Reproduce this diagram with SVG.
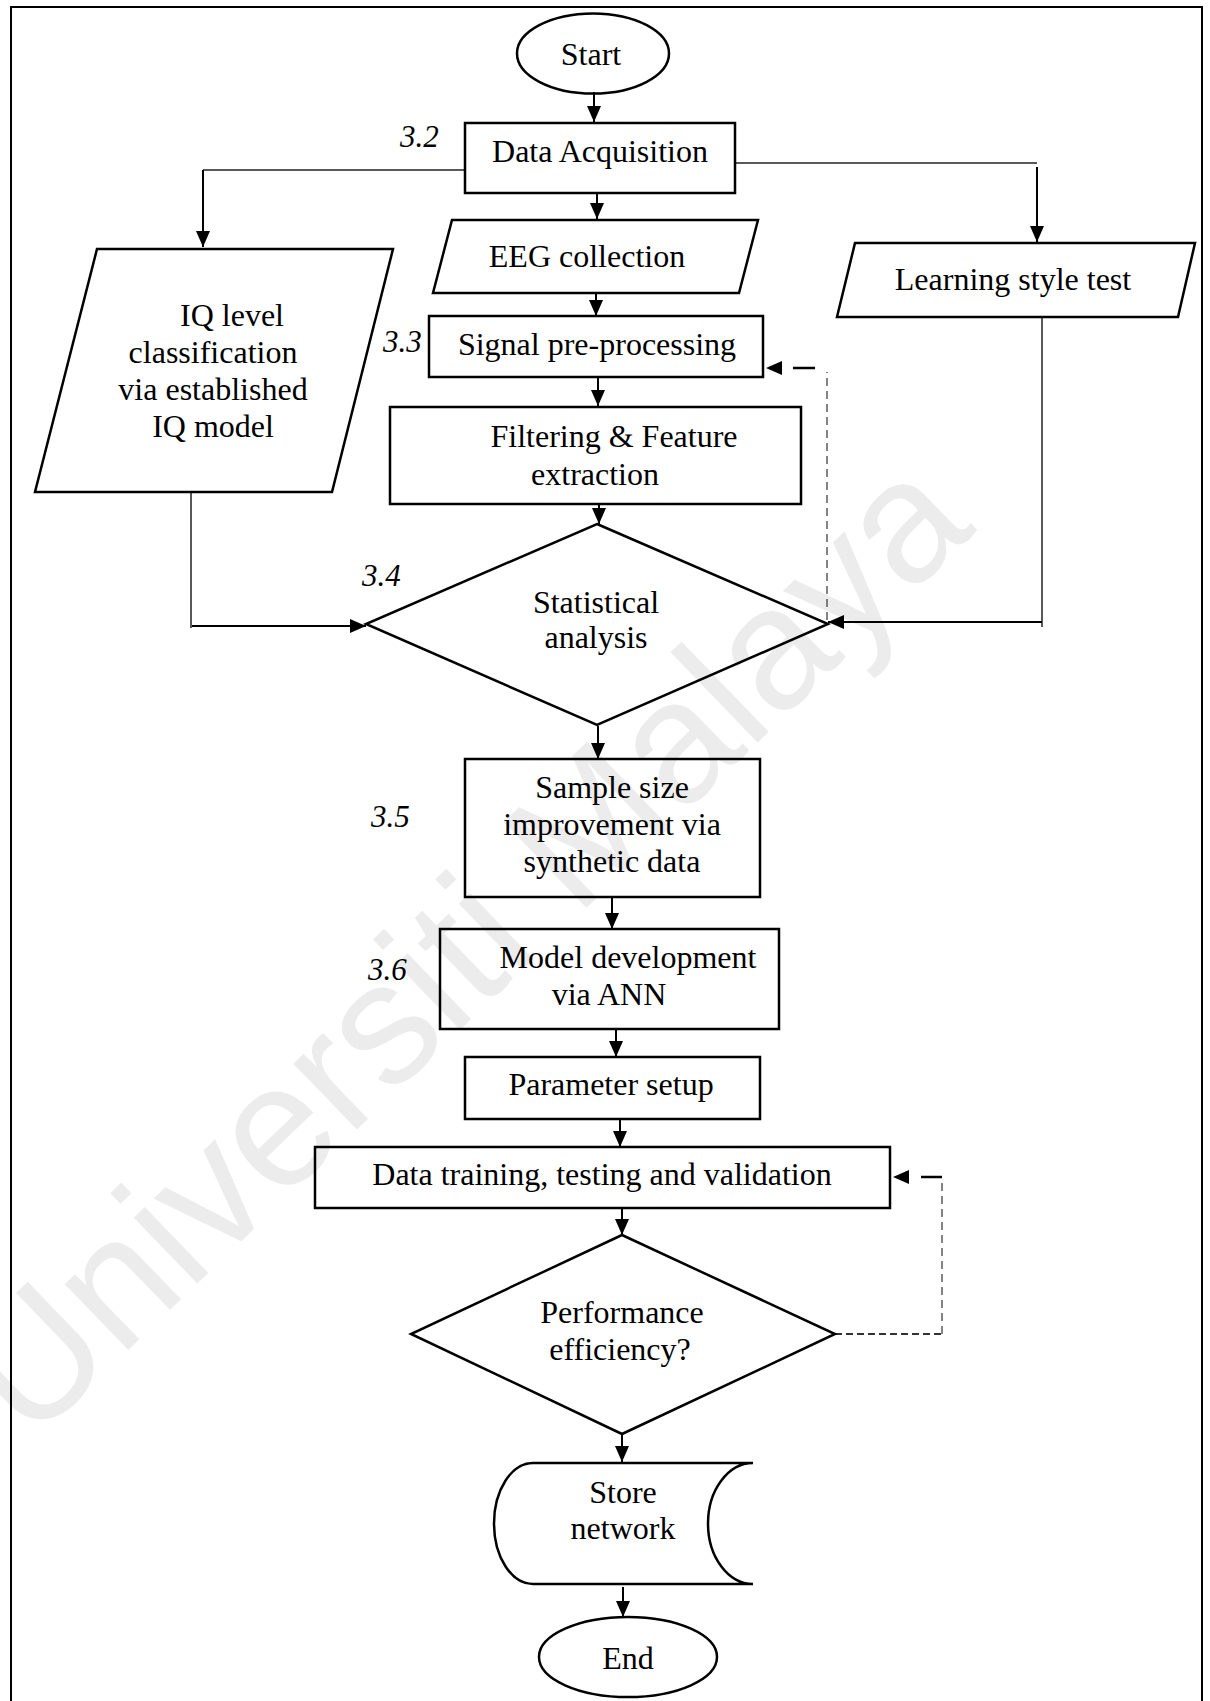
<svg xmlns="http://www.w3.org/2000/svg" width="1210" height="1701" viewBox="0 0 1210 1701">
  <style>
    .shape { fill: none; stroke: #000; stroke-width: 2.5; }
    .label { font-family: "Liberation Serif", "Times New Roman", serif; font-size: 32px; fill: #000; text-anchor: middle; }
    .num { font-family: "Liberation Serif", "Times New Roman", serif; font-size: 31px; font-style: italic; fill: #000; }
    .flow { fill: none; stroke: #000; stroke-width: 2; }
    .thin { fill: none; stroke: #222; stroke-width: 1.5; }
    .dash-thin { fill: none; stroke: #333; stroke-width: 1.2; stroke-dasharray: 8 5; }
    .dash-mid { fill: none; stroke: #333; stroke-width: 2; stroke-dasharray: 7 4; }
    .watermark { font-family: "Liberation Sans", Arial, sans-serif; font-size: 173px; fill: #ececec; }
  </style>
  <defs>
    <marker id="arrow" markerUnits="userSpaceOnUse" markerWidth="16" markerHeight="14" refX="16" refY="7" orient="auto">
      <path d="M0,0 L16,7 L0,14 z" fill="#000"/>
    </marker>
  </defs>

  <rect width="1210" height="1701" fill="#fff"/>
  <!-- faint background lettering -->
  <text class="watermark" transform="translate(30 1445) rotate(-44)">Universiti Malaya</text>

  <!-- page frame -->
  <path d="M11 1702 V7 H1202 V1702" fill="none" stroke="#000" stroke-width="2"/>

  <!-- connectors -->
  <g id="connectors">
    <path class="flow" d="M594 92 V122" marker-end="url(#arrow)"/>
    <path class="flow" d="M597 193 V219" marker-end="url(#arrow)"/>
    <path class="flow" d="M596 293 V316" marker-end="url(#arrow)"/>
    <path class="flow" d="M598 377 V406" marker-end="url(#arrow)"/>
    <path class="flow" d="M599 504 V524" marker-end="url(#arrow)"/>
    <path class="flow" d="M598 726 V759" marker-end="url(#arrow)"/>
    <path class="flow" d="M612 897 V929" marker-end="url(#arrow)"/>
    <path class="flow" d="M616 1029 V1057" marker-end="url(#arrow)"/>
    <path class="flow" d="M620 1119 V1147" marker-end="url(#arrow)"/>
    <path class="flow" d="M622 1208 V1235" marker-end="url(#arrow)"/>
    <path class="flow" d="M622 1435 V1462" marker-end="url(#arrow)"/>
    <path class="flow" d="M623 1587 V1617" marker-end="url(#arrow)"/>

    <!-- branches out of Data Acquisition -->
    <path class="thin" d="M465 170 H203"/>
    <path class="flow" d="M203 170 V247" marker-end="url(#arrow)"/>
    <path class="thin" d="M735 163 H1037"/>
    <path class="flow" d="M1037 167 V242" marker-end="url(#arrow)"/>

    <!-- inputs into Statistical analysis -->
    <path class="thin" d="M191 492 V628"/>
    <path class="flow" d="M192 626 H366" marker-end="url(#arrow)"/>
    <path class="thin" d="M1042 317 V627"/>
    <path class="flow" d="M1042 622 H828" marker-end="url(#arrow)"/>

    <!-- feedback loops -->
    <path class="dash-thin" d="M827 620 V372"/>
    <path d="M815 368 H766" fill="none" stroke="#000" stroke-width="2.5" stroke-dasharray="22 40" marker-end="url(#arrow)"/>
    <path class="dash-mid" d="M835 1334 H942"/>
    <path class="dash-thin" d="M942 1334 V1178"/>
    <path d="M942 1177 H893" fill="none" stroke="#000" stroke-width="2.5" stroke-dasharray="21 40" marker-end="url(#arrow)"/>
  </g>

  <!-- nodes -->
  <g id="start">
    <ellipse class="shape" cx="593" cy="53.5" rx="76" ry="40"/>
    <text class="label" x="591" y="65">Start</text>
  </g>

  <g id="data-acquisition">
    <rect class="shape" x="465" y="123" width="270" height="70"/>
    <text class="label" x="600" y="162">Data Acquisition</text>
    <text class="num" x="400" y="147">3.2</text>
  </g>

  <g id="iq-classification">
    <polygon class="shape" points="97,249 393,249 332,492 35,492"/>
    <text class="label" x="232" y="326">IQ level</text>
    <text class="label" x="213" y="363">classification</text>
    <text class="label" x="213" y="400">via established</text>
    <text class="label" x="213" y="437">IQ model</text>
  </g>

  <g id="eeg-collection">
    <polygon class="shape" points="452,220 758,220 739,293 433,293"/>
    <text class="label" x="587" y="267">EEG collection</text>
  </g>

  <g id="learning-style-test">
    <polygon class="shape" points="855,243 1195,243 1178,317 837,317"/>
    <text class="label" x="1013" y="290">Learning style test</text>
  </g>

  <g id="signal-preprocessing">
    <rect class="shape" x="429" y="316" width="334" height="61"/>
    <text class="label" x="597" y="355">Signal pre-processing</text>
    <text class="num" x="383" y="352">3.3</text>
  </g>

  <g id="filtering">
    <rect class="shape" x="390" y="407" width="411" height="97"/>
    <text class="label" x="614" y="447">Filtering &amp; Feature</text>
    <text class="label" x="595" y="485">extraction</text>
  </g>

  <g id="statistical-analysis">
    <polygon class="shape" points="597,524 828,624 597,725 366,624"/>
    <text class="label" x="596" y="613">Statistical</text>
    <text class="label" x="596" y="648">analysis</text>
    <text class="num" x="362" y="586">3.4</text>
  </g>

  <g id="sample-size">
    <rect class="shape" x="465" y="759" width="295" height="138"/>
    <text class="label" x="612" y="798">Sample size</text>
    <text class="label" x="612" y="835">improvement via</text>
    <text class="label" x="612" y="872">synthetic data</text>
    <text class="num" x="371" y="827">3.5</text>
  </g>

  <g id="model-development">
    <rect class="shape" x="440" y="929" width="339" height="100"/>
    <text class="label" x="628" y="968">Model development</text>
    <text class="label" x="609" y="1005">via ANN</text>
    <text class="num" x="368" y="980">3.6</text>
  </g>

  <g id="parameter-setup">
    <rect class="shape" x="465" y="1057" width="295" height="62"/>
    <text class="label" x="611" y="1095">Parameter setup</text>
  </g>

  <g id="data-training">
    <rect class="shape" x="315" y="1147" width="575" height="61"/>
    <text class="label" x="602" y="1185">Data training, testing and validation</text>
  </g>

  <g id="performance">
    <polygon class="shape" points="622,1235 835,1334 622,1434 411,1334"/>
    <text class="label" x="622" y="1323">Performance</text>
    <text class="label" x="620" y="1360">efficiency?</text>
  </g>

  <g id="store-network">
    <path class="shape" d="M533 1463 H753 A45 60.5 0 0 0 753 1584 H533 A39 60.5 0 0 1 533 1463 Z"/>
    <text class="label" x="623" y="1503">Store</text>
    <text class="label" x="623" y="1539">network</text>
  </g>

  <g id="end">
    <ellipse class="shape" cx="628" cy="1657" rx="89" ry="40"/>
    <text class="label" x="628" y="1669">End</text>
  </g>
</svg>
